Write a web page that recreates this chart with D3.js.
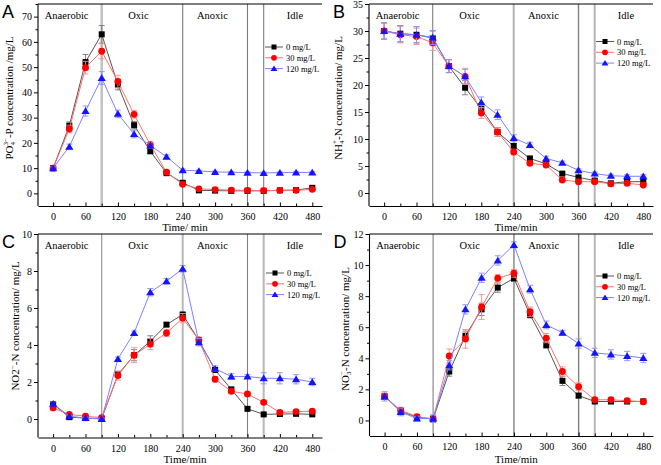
<!DOCTYPE html>
<html><head><meta charset="utf-8">
<script src="https://cdn.jsdelivr.net/npm/d3@7"></script>
<style>body{margin:0;background:#fff}svg{display:block}svg text{font-family:"Liberation Serif","Times New Roman",serif}svg text.letter{font-family:"Liberation Sans",Arial,sans-serif}</style>
</head><body>
<svg id="chart" width="661" height="465"></svg>
<script>
const times = [0,30,60,90,120,150,180,210,240,270,300,330,360,390,420,450,480];
const seriesNames = ["0 mg/L","30 mg/L","120 mg/L"];
const xTickValues = [0,60,120,180,240,300,360,420,480];
const phaseNames = ["Anaerobic","Oxic","Anoxic","Idle"];
const phaseLabelAt = [25,158,295,448];
const phaseBounds = [90,240,360,390];

const po4_0 = [10,26.8,52,63,43,27,16.7,8,4.2,1.2,1.1,1,1,1,1.2,1.3,2.2];
const po4_30 = [10,25.5,49.8,56.3,44.3,31.3,19.3,8.4,3.6,1.8,1.5,1.3,1.2,1.1,1.2,1.2,1.6];
const po4_120 = [10,18.5,32.6,45.7,31.5,23.5,19,14.5,9.2,8.9,8.5,8.4,8.2,8.1,8.2,8.3,8.3];
const po4_0_err = [0.5,1.5,3,3.5,2,1.5,1,0.5,0.5,0.3,0.3,0.3,0.3,0.3,0.3,0.3,0.5];
const po4_30_err = [0.5,1.5,2.5,3,2.5,1.5,1,0.5,0.5,0.3,0.3,0.3,0.3,0.3,0.3,0.3,0.3];
const po4_120_err = [0.5,1,2,2.5,1.5,1.5,1,0.8,0.5,0.3,0.3,0.3,0.3,0.3,0.3,0.3,0.3];

const nh4_0 = [30,29.5,29.3,28.7,23.5,19.5,15.6,11.3,8.7,6.4,5.4,3.6,2.9,2.3,1.8,2.1,2.1];
const nh4_30 = [30,29.3,29,27.8,23.5,21.6,14.8,11.3,7.6,5.5,5.2,2.4,2.1,2.1,1.7,1.8,1.5];
const nh4_120 = [30,29.5,29.3,28.8,23.5,21.6,16.8,14.5,10.2,8.9,6.4,5.6,4.2,3.6,3.2,3.1,3.1];
const nh4_0_err = [1.5,1.5,1.5,1.3,1.2,1.3,1,0.8,0.5,0.4,0.4,0.3,0.3,0.3,0.3,0.3,0.3];
const nh4_30_err = [1.5,1.5,1.5,1.4,1.2,1.5,1,0.8,0.5,0.4,0.4,0.3,0.3,0.3,0.3,0.3,0.3];
const nh4_120_err = [1.5,1.5,1.5,1.3,1.2,1.3,1,0.9,0.6,0.5,0.4,0.3,0.3,0.3,0.3,0.3,0.3];

const no2_0 = [0.8,0.1,0.05,0.02,2.4,3.45,4.2,5.1,5.65,4.25,2.65,1.6,0.55,0.25,0.27,0.28,0.25];
const no2_30 = [0.6,0.25,0.15,0.07,2.35,3.45,4.05,4.65,5.45,4.27,2.15,1.5,1.35,0.9,0.35,0.4,0.42];
const no2_120 = [0.82,0.15,0.05,0.0,3.25,4.65,6.85,7.45,8.12,4.15,2.72,2.3,2.3,2.2,2.2,2.15,2.0];
const no2_0_err = [0.1,0.05,0.05,0.05,0.15,0.3,0.3,0.1,0.1,0.1,0.1,0.1,0.08,0.05,0.05,0.05,0.05];
const no2_30_err = [0.1,0.05,0.05,0.05,0.25,0.4,0.3,0.2,0.25,0.15,0.15,0.1,0.1,0.08,0.1,0.08,0.08];
const no2_120_err = [0.1,0.05,0.05,0.05,0.1,0.1,0.2,0.15,0.18,0.2,0.15,0.15,0.1,0.3,0.3,0.25,0.2];

const no3_0 = [1.55,0.6,0.2,0.1,3.15,5.45,7.15,8.55,9.15,6.8,4.85,2.55,1.6,1.22,1.22,1.22,1.23];
const no3_30 = [1.55,0.65,0.25,0.1,4.15,5.25,7.3,9.15,9.47,7.0,5.3,3.15,2.17,1.33,1.33,1.27,1.2];
const no3_120 = [1.55,0.55,0.12,0.12,3.55,7.15,9.18,10.3,11.3,8.45,6.15,5.65,4.95,4.35,4.25,4.15,4.02];
const no3_0_err = [0.2,0.2,0.1,0.2,0.3,0.3,0.4,0.3,0.2,0.2,0.2,0.3,0.15,0.1,0.1,0.1,0.1];
const no3_30_err = [0.2,0.2,0.1,0.2,0.45,0.6,0.8,0.25,0.25,0.3,0.3,0.3,0.25,0.1,0.1,0.1,0.1];
const no3_120_err = [0.3,0.25,0.15,0.25,0.3,0.3,0.3,0.3,0.2,0.25,0.25,0.15,0.3,0.3,0.3,0.3,0.3];

const markerFill = ["#000000","#ff0000","#1414ff"];
const lineColor = ["#555555","#ff7070","#8080ff"];
const errColor = ["#777777","#ff8a8a","#8c8cff"];

const panels = [
  {letter:"A", left:38, right:322, top:4, bottom:206, ydom:[-5,75], yticks:d3.range(0,71,10), ystep:5,
   vals:[po4_0,po4_30,po4_120], errs:[po4_0_err,po4_30_err,po4_120_err],
   ylab:[["PO",0],["4",1],["3−",2],["-P concentration /mg/L",3]], ylx:9, yly:98,
   xtitle:"Time/ min", xty:231, leg:[265,47],
   div:[["#c4c4c4",2.6],["#7a7a7a",1.1],["#7a7a7a",1.1],["#7a7a7a",1.1]]},
  {letter:"B", left:369, right:653, top:4, bottom:206, ydom:[-2.4,35], yticks:d3.range(0,36,5), ystep:2.5,
   vals:[nh4_0,nh4_30,nh4_120], errs:[nh4_0_err,nh4_30_err,nh4_120_err],
   ylab:[["NH",0],["4",1],["+",2],["-N concentration/ mg/L",3]], ylx:338, yly:98,
   xtitle:"Time/min", xty:231, leg:[596,41.5],
   div:[["#808080",1.1],["#b4b4b4",2],["#808080",1.4],["#b4b4b4",2]]},
  {letter:"C", left:38, right:322, top:234, bottom:437.5, ydom:[-1,10], yticks:d3.range(0,11,2), ystep:1,
   vals:[no2_0,no2_30,no2_120], errs:[no2_0_err,no2_30_err,no2_120_err],
   ylab:[["NO2",0],["−",4],["-N concentration/ mg/L",5]], ylx:15, yly:326,
   xtitle:"Time/min", xty:463, leg:[266,273],
   div:[["#909090",1.1],["#b8b8b8",2],["#808080",1.1],["#b8b8b8",2]]},
  {letter:"D", left:369.5, right:653, top:234, bottom:436, ydom:[-1,12], yticks:d3.range(0,13,2), ystep:1,
   vals:[no3_0,no3_30,no3_120], errs:[no3_0_err,no3_30_err,no3_120_err],
   ylab:[["NO",0],["3",1],["−",2],["-N concentration/ mg/L",3]], ylx:345, yly:329,
   xtitle:"Time/min", xty:463, leg:[596,276],
   div:[["#808080",1.1],["#808080",1.4],["#808080",1.4],["#b8b8b8",2]]}
];

const svg = d3.select("#chart");

function marker(g, k, x, y, s) {
  if (k === 0) {
    g.append("rect").attr("x", x - s).attr("y", y - s).attr("width", 2*s).attr("height", 2*s).attr("fill", markerFill[0]);
  } else if (k === 1) {
    g.append("circle").attr("cx", x).attr("cy", y).attr("r", s*1.15).attr("fill", markerFill[1]);
  } else {
    const h = s*1.25;
    g.append("path").attr("d", `M${x},${y-h}L${x+h*1.1},${y+h*0.8}L${x-h*1.1},${y+h*0.8}Z`).attr("fill", markerFill[2]);
  }
}

panels.forEach(p => {
  const g = svg.append("g");
  const x = d3.scaleLinear().domain([-28, 498]).range([p.left, p.right]);
  const y = d3.scaleLinear().domain(p.ydom).range([p.bottom, p.top]);

  phaseBounds.forEach((b, i) => {
    g.append("line").attr("x1", x(b)).attr("x2", x(b)).attr("y1", p.top).attr("y2", p.bottom)
      .attr("stroke", p.div[i][0]).attr("stroke-width", p.div[i][1]);
  });
  phaseNames.forEach((n, i) => {
    g.append("text").attr("x", x(phaseLabelAt[i])).attr("y", p.top + 15)
      .attr("text-anchor", "middle").attr("font-size", 10.5).text(n);
  });

  const yMinor = d3.range(0, p.ydom[1] + 0.001, p.ystep).filter(v => !p.yticks.some(t => Math.abs(t - v) < 1e-6));
  const yAx = g.append("g").attr("transform", `translate(${p.left},0)`)
    .call(d3.axisLeft(y).tickValues(p.yticks).tickSize(4).tickPadding(2).tickFormat(d3.format("d")));
  g.append("g").attr("transform", `translate(${p.left},0)`)
    .call(d3.axisLeft(y).tickValues(yMinor).tickSize(2.5).tickFormat(""))
    .call(a => a.select(".domain").remove());
  const xAx = g.append("g").attr("transform", `translate(0,${p.bottom})`)
    .call(d3.axisBottom(x).tickValues(xTickValues).tickSizeInner(-3.5).tickSizeOuter(0).tickPadding(7));
  g.append("g").attr("transform", `translate(0,${p.bottom})`)
    .call(d3.axisBottom(x).tickValues(d3.range(30, 481, 60)).tickSizeInner(-2.5).tickSizeOuter(0).tickFormat(""))
    .call(a => a.select(".domain").remove());
  g.selectAll("g").attr("font-family", null);
  g.selectAll(".tick text").attr("font-size", 10).attr("fill", "#000");
  g.selectAll(".domain, .tick line").attr("stroke", "#000");
  yAx.select(".domain").attr("d", `M0,${p.bottom}V${p.top}`).attr("stroke-width", 1.1);
  xAx.select(".domain").attr("stroke-width", 1.1);
  g.append("line").attr("x1", p.left).attr("x2", p.right).attr("y1", p.top).attr("y2", p.top)
    .attr("stroke", "#000").attr("stroke-width", 1);

  const line = d3.line().x((d, i) => x(times[i])).y(d => y(d));
  p.vals.forEach((vals, k) => {
    const sg = g.append("g");
    sg.append("path").attr("d", line(vals)).attr("fill", "none").attr("stroke", lineColor[k]).attr("stroke-width", 1);
    vals.forEach((v, i) => {
      const e = p.errs[k][i];
      const xx = x(times[i]);
      sg.append("path").attr("d", `M${xx},${y(v - e)}V${y(v + e)}M${xx-3},${y(v - e)}H${xx+3}M${xx-3},${y(v + e)}H${xx+3}`)
        .attr("stroke", errColor[k]).attr("stroke-width", 0.9).attr("fill", "none");
    });
    vals.forEach((v, i) => marker(sg, k, x(times[i]), y(v), 3));
  });

  seriesNames.forEach((n, k) => {
    const ly = p.leg[1] + k * 10.8;
    const lx = p.leg[0];
    g.append("line").attr("x1", lx).attr("x2", lx + 18).attr("y1", ly).attr("y2", ly)
      .attr("stroke", lineColor[k]).attr("stroke-width", 1);
    marker(g, k, lx + 9, ly, 2.5);
    g.append("text").attr("x", lx + 21).attr("y", ly + 3).attr("font-size", 8.5).text(n);
  });

  // y label: kinds 0 normal, 1 subscript, 2 superscript after subscript, 3 back to baseline after sup,
  // 4 superscript directly, 5 back to baseline after 4
  const yl = g.append("text").attr("transform", `translate(${p.ylx},${p.yly}) rotate(-90)`)
    .attr("text-anchor", "middle").attr("dy", "0.35em").attr("font-size", 11);
  p.ylab.forEach(([t, kind]) => {
    const ts = yl.append("tspan").text(t);
    if (kind === 1) ts.attr("font-size", 7).attr("dy", 2.5);
    if (kind === 2) ts.attr("font-size", 7).attr("dy", -7).attr("dx", -3.5);
    if (kind === 3) ts.attr("dy", 4.5);
    if (kind === 4) ts.attr("font-size", 7).attr("dy", -4);
    if (kind === 5) ts.attr("dy", 4);
  });

  g.append("text").attr("x", (p.left + p.right) / 2 + 5).attr("y", p.xty).attr("text-anchor", "middle")
    .attr("font-size", 11).text(p.xtitle);

  g.append("text").attr("class", "letter").attr("x", p.left - 36).attr("y", p.top + 14)
    .attr("font-size", 18).text(p.letter);
});
</script>
</body></html>
